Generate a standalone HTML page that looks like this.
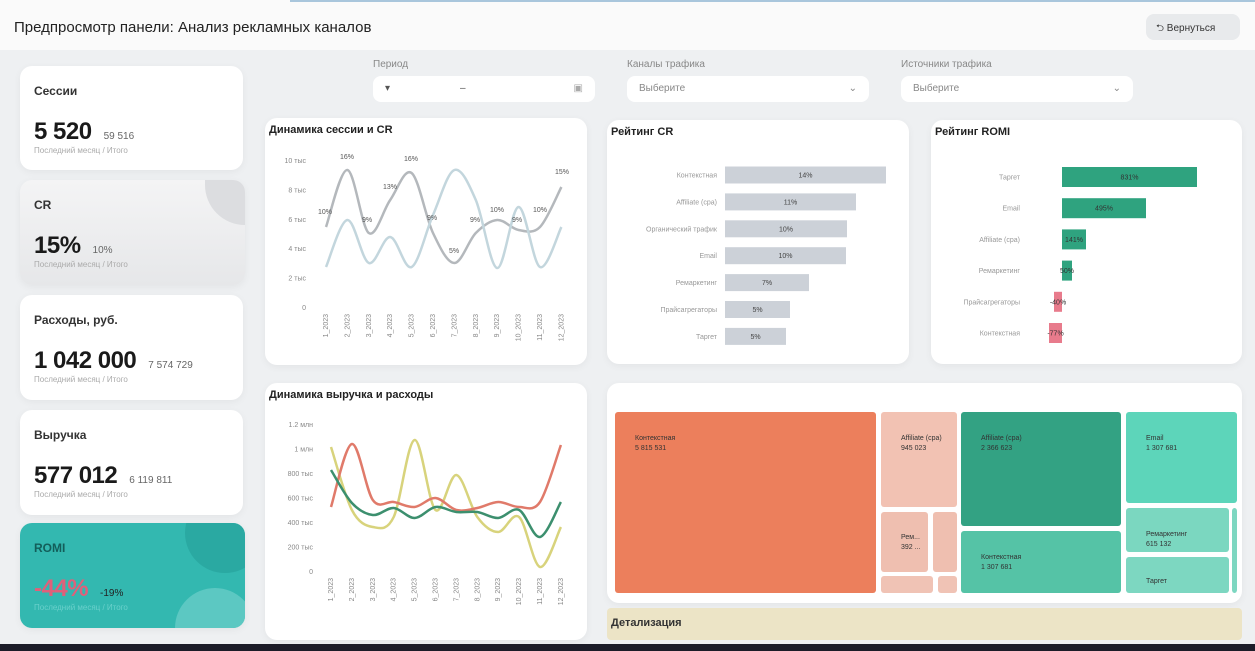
<!DOCTYPE html>
<html><head><meta charset="utf-8">
<style>
*{margin:0;padding:0;box-sizing:border-box}
body{width:1255px;height:651px;overflow:hidden;background:#eef0f2;font-family:"Liberation Sans","DejaVu Sans",sans-serif;color:#222;position:relative}
.a{position:absolute}
.card{position:absolute;background:#fff;border-radius:12px;box-shadow:0 2px 8px rgba(0,0,0,0.05)}
.ct{position:absolute;left:14px;top:18px;font-size:12px;font-weight:bold;color:#333}
.big{position:absolute;left:14px;top:52px;font-size:24px;font-weight:bold;color:#1a1a1a;letter-spacing:-0.5px}
.big small{font-size:10px;font-weight:normal;color:#666;margin-left:12px;letter-spacing:0}
.sub{position:absolute;left:14px;top:80px;font-size:8px;color:#aaa}
.lbl{position:absolute;font-size:10px;color:#888}
.inp{position:absolute;background:#fff;border-radius:8px;height:26px;font-size:10px;color:#888;padding:7px 12px}
.pt{position:absolute;left:4px;top:6px;font-size:11px;font-weight:bold;color:#222}
</style></head><body>
<div class="a" style="left:0;top:0;width:1255px;height:50px;background:#fafafa"></div>
<div class="a" style="left:290px;top:0;width:1100px;height:2px;background:#a9c6dc"></div>
<div class="a" style="left:14px;top:19px;font-size:15px;color:#222">Предпросмотр панели: Анализ рекламных каналов</div>
<div class="a" style="left:1146px;top:14px;width:94px;height:26px;background:#e8eaec;border-radius:8px;font-size:10px;color:#333;padding:7px 0 0 10px">⮌ Вернуться</div>

<div class="card" style="left:20px;top:66px;width:223px;height:104px"><div class="ct">Сессии</div><div class="big">5 520<small>59 516</small></div><div class="sub">Последний месяц / Итого</div></div>
<div class="card" style="left:20px;top:180px;width:225px;height:105px;background:linear-gradient(180deg,#f4f4f5,#e6e7e9)"><div class="a" style="right:0;top:0;width:40px;height:45px;background:#dcdde0;border-radius:0 12px 0 40px"></div><div class="ct">CR</div><div class="big">15%<small>10%</small></div><div class="sub">Последний месяц / Итого</div></div>
<div class="card" style="left:20px;top:295px;width:223px;height:105px"><div class="ct">Расходы,  руб.</div><div class="big">1 042 000<small>7 574 729</small></div><div class="sub">Последний месяц / Итого</div></div>
<div class="card" style="left:20px;top:410px;width:223px;height:105px"><div class="ct">Выручка</div><div class="big">577 012<small>6 119 811</small></div><div class="sub">Последний месяц / Итого</div></div>
<div class="card" style="left:20px;top:523px;width:225px;height:105px;background:#33b8b0;overflow:hidden"><div class="a" style="right:-20px;top:-30px;width:80px;height:80px;border-radius:50%;background:#2aa9a2"></div><div class="a" style="right:-10px;bottom:-40px;width:80px;height:80px;border-radius:50%;background:#5cc8c2"></div><div class="ct" style="color:#135e5a">ROMI</div><div class="big" style="color:#e0607a">-44%<small style="color:#222">-19%</small></div><div class="sub" style="color:#6ad0cb">Последний месяц / Итого</div></div>

<div class="lbl" style="left:373px;top:59px">Период</div>
<div class="inp" style="left:373px;top:76px;width:222px;color:#555">▾<span style="margin-left:70px">–</span><span style="float:right;color:#aaa">▣</span></div>
<div class="lbl" style="left:627px;top:59px">Каналы трафика</div>
<div class="inp" style="left:627px;top:76px;width:242px">Выберите<span style="float:right">⌄</span></div>
<div class="lbl" style="left:901px;top:59px">Источники трафика</div>
<div class="inp" style="left:901px;top:76px;width:232px">Выберите<span style="float:right">⌄</span></div>

<div class="card" style="left:265px;top:118px;width:322px;height:247px"><div class="pt">Динамика сессии и CR</div></div>
<div class="card" style="left:607px;top:120px;width:302px;height:244px"><div class="pt">Рейтинг CR</div></div>
<div class="card" style="left:931px;top:120px;width:311px;height:244px"><div class="pt">Рейтинг ROMI</div></div>
<div class="card" style="left:265px;top:383px;width:322px;height:257px"><div class="pt">Динамика выручка и расходы</div></div>
<div class="card" style="left:607px;top:383px;width:635px;height:220px"></div>
<div class="a" style="left:607px;top:608px;width:635px;height:32px;background:#ece4c6;border-radius:4px"><div style="position:absolute;left:4px;top:9px;font-size:11px;font-weight:bold;color:#333">Детализация</div></div>
<div class="a" style="left:0;top:644px;width:1255px;height:7px;background:#1c1c28"></div>

<svg class="a" style="left:0;top:0" width="1255" height="651" font-family="Liberation Sans, sans-serif">
<g font-size="7" fill="#888" text-anchor="end" id="ax1"></g>
<path id="c1a" fill="none" stroke="#b4b8bc" stroke-width="2.5"/>
<path id="c1b" fill="none" stroke="#c3d6dd" stroke-width="2.5"/>
<g font-size="7" fill="#555" id="lab1"></g>
<path id="c2y" fill="none" stroke="#d8d37c" stroke-width="2.5"/>
<path id="c2r" fill="none" stroke="#e07a6a" stroke-width="2.5"/>
<path id="c2g" fill="none" stroke="#3c8f6e" stroke-width="2.5"/>
<g id="bars" font-size="7"></g>
<g id="tm" font-size="7" fill="#333"></g>
</svg>
<script>
var NS="http://www.w3.org/2000/svg";
function el(p,t,a,txt){var e=document.createElementNS(NS,t);for(var k in a)e.setAttribute(k,a[k]);if(txt)e.textContent=txt;document.getElementById(p).appendChild(e);return e;}
function smooth(pts){var d="M"+pts[0][0]+","+pts[0][1];for(var i=0;i<pts.length-1;i++){var p0=pts[i-1]||pts[i],p1=pts[i],p2=pts[i+1],p3=pts[i+2]||p2;var c1x=p1[0]+(p2[0]-p0[0])/6,c1y=p1[1]+(p2[1]-p0[1])/6,c2x=p2[0]-(p3[0]-p1[0])/6,c2y=p2[1]-(p3[1]-p1[1])/6;d+=" C"+c1x+","+c1y+" "+c2x+","+c2y+" "+p2[0]+","+p2[1];}return d;}
function mk(xs,ys){return xs.map(function(x,i){return [x,ys[i]]});}
var x1=[],x2=[];for(var i=0;i<12;i++){x1.push(326+i*21.4);x2.push(331+i*20.9);}
var yl=["10 тыс","8 тыс","6 тыс","4 тыс","2 тыс","0"];
yl.forEach(function(t,i){el("ax1","text",{x:306,y:163+i*29.4},t)});
x1.forEach(function(x,i){el("ax1","text",{x:0,y:0,transform:"translate("+(x+2)+",314) rotate(-90)"},(i+1)+"_2023");});
document.getElementById("c1a").setAttribute("d",smooth(mk(x1,[227,170,233,200,173,233,263,233,220,230,227,187])));
document.getElementById("c1b").setAttribute("d",smooth(mk(x1,[267,220,263,237,267,215,170,200,268,207,267,227])));
var labs=[["10%",318,214],["16%",340,159],["9%",362,222],["13%",383,189],["16%",404,161],["9%",427,220],["5%",449,253],["9%",470,222],["10%",490,212],["9%",512,222],["10%",533,212],["15%",555,174]];
labs.forEach(function(l){el("lab1","text",{x:l[1],y:l[2]},l[0])});
var yl2=["1.2 млн","1 млн","800 тыс","600 тыс","400 тыс","200 тыс","0"];
yl2.forEach(function(t,i){el("ax1","text",{x:313,y:427+i*24.5},t)});
x2.forEach(function(x,i){el("ax1","text",{x:0,y:0,transform:"translate("+(x+2)+",578) rotate(-90)"},(i+1)+"_2023");});
document.getElementById("c2y").setAttribute("d",smooth(mk(x2,[447,510,527,517,440,510,475,517,532,517,567,527])));
document.getElementById("c2r").setAttribute("d",smooth(mk(x2,[507,444,500,502,507,498,510,508,502,507,502,445])));
document.getElementById("c2g").setAttribute("d",smooth(mk(x2,[470,503,515,508,518,507,512,512,518,510,537,502])));
var cr=[["Контекстная",886,"14%"],["Affiliate (cpa)",856,"11%"],["Органический трафик",847,"10%"],["Email",846,"10%"],["Ремаркетинг",809,"7%"],["Прайсагрегаторы",790,"5%"],["Таргет",786,"5%"]];
cr.forEach(function(c,i){var cy=175+i*26.9;el("bars","rect",{x:725,y:cy-8.5,width:c[1]-725,height:17,fill:"#ccd1d8"});el("bars","text",{x:717,y:cy+2.5,"text-anchor":"end",fill:"#999"},c[0]);el("bars","text",{x:(725+c[1])/2,y:cy+2.5,"text-anchor":"middle",fill:"#444"},c[2]);});
var ro=[["Таргет",1197,"831%"],["Email",1146,"495%"],["Affiliate (cpa)",1086,"141%"],["Ремаркетинг",1072,"50%"],["Прайсагрегаторы",1054,"-40%"],["Контекстная",1049,"-77%"]];
ro.forEach(function(c,i){var cy=177+i*31.2,a=Math.min(1062,c[1]),b=Math.max(1062,c[1]);el("bars","rect",{x:a,y:cy-10,width:b-a,height:20,fill:c[1]<1062?"#e87b8c":"#2fa37f"});el("bars","text",{x:1020,y:cy+2.5,"text-anchor":"end",fill:"#999"},c[0]);el("bars","text",{x:(a+b)/2,y:cy+2.5,"text-anchor":"middle",fill:"#333"},c[2]);});
var tm=[[615,412,876,593,"#ec7f5c","Контекстная","5 815 531"],[881,412,957,507,"#f2c2b3","Affiliate (cpa)","945 023"],[881,512,928,572,"#efbfb0","Рем...","392 ..."],[933,512,957,572,"#efbfb0"],[881,576,933,593,"#f0c3b5"],[938,576,957,593,"#f0c3b5"],[961,412,1121,526,"#33a283","Affiliate (cpa)","2 366 623"],[961,531,1121,593,"#55c3a6","Контекстная","1 307 681"],[1126,412,1237,503,"#5dd5ba","Email","1 307 681"],[1126,508,1229,552,"#7bd7c0","Ремаркетинг","615 132"],[1126,557,1229,593,"#7dd7c1","Таргет"],[1232,508,1237,593,"#7dd7c1"]];
tm.forEach(function(r){el("tm","rect",{x:r[0],y:r[1],width:r[2]-r[0],height:r[3]-r[1],rx:3,fill:r[4]});if(r[5]){var ty=r[6]?r[1]+28:r[1]+26;if(r[5]=="Рем...")ty=r[1]+27;el("tm","text",{x:r[0]+20,y:ty},r[5]);if(r[6])el("tm","text",{x:r[0]+20,y:ty+10},r[6]);}});
</script>
</body></html>
